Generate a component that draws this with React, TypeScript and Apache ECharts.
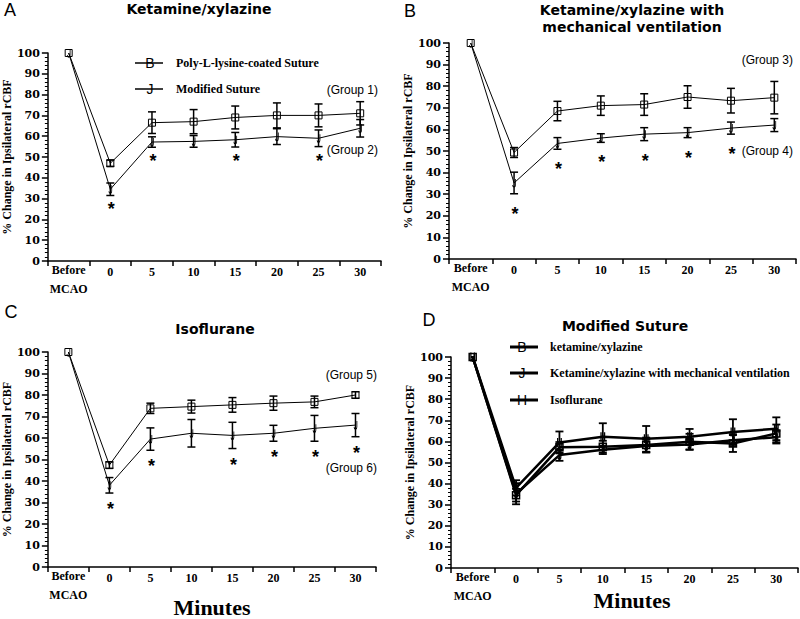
import React, { useEffect, useRef } from 'react';
import * as echarts from 'echarts';

// ---------- data ----------
const categories = ['Before MCAO', '0', '5', '10', '15', '20', '25', '30'];
const yTicks = [0, 10, 20, 30, 40, 50, 60, 70, 80, 90, 100];

// Panel A: Ketamine/xylazine
const g1Mean = [100, 47, 66.5, 67, 69, 70, 70, 71];
const g1Err = [0, 1.5, 5.2, 5.8, 5.5, 6, 5.5, 5.6];
const g2Mean = [100, 34.5, 57.2, 57.5, 58.3, 59.8, 59, 63.8];
const g2Err = [0, 3, 2.5, 2.8, 3.5, 3.8, 4, 4.2];
const g2Stars = [1, 2, 4, 6];

// Panel B: Ketamine/xylazine with mechanical ventilation
const g3Mean = [100, 49.3, 68.5, 71, 71.5, 75, 73.3, 74.7];
const g3Err = [0, 2.3, 4.5, 4.5, 5, 5.2, 5.7, 7.5];
const g4Mean = [100, 35.2, 53.5, 56, 57.8, 58.5, 60.6, 62];
const g4Err = [0, 5, 2.7, 2, 3, 2.3, 2.8, 3];
const g4Stars = [1, 2, 3, 4, 5, 6];

// Panel C: Isoflurane
const g5Mean = [100, 47.4, 73.8, 74.6, 75.4, 76.2, 76.8, 80];
const g5Err = [0, 1.5, 2.4, 3, 3.4, 3.3, 2.7, 1.5];
const g6Mean = [100, 38, 59.5, 62.2, 61.2, 62.2, 64.5, 66];
const g6Err = [0, 3.6, 5.2, 6.4, 6.1, 3.7, 6, 5.4];
const g6Stars = [1, 2, 4, 5, 6, 7];

// ---------- styles ----------
const SERIF = "'Liberation Serif','Times New Roman',serif";
const SANS = "'Liberation Sans',Arial,sans-serif";
const DJS = "'DejaVu Sans',sans-serif";
const DJSERIF = "'DejaVu Serif',serif";
const J_PATH = 'path://M6,0L6,8C6,11.5,0,11.5,0,8';
const H_PATH = 'path://M0,0L0,10M6,0L6,10M0,5L6,5';

const grids = [
  { left: 41, top: 53, width: 340, height: 208 },
  { left: 449, top: 43, width: 347, height: 216 },
  { left: 41, top: 352, width: 335, height: 215 },
  { left: 451, top: 357, width: 347, height: 211 },
];
const nameGaps = [27, 27, 28, 26];

function xAxis(i: number) {
  return {
    type: 'category',
    gridIndex: i,
    data: categories,
    boundaryGap: true,
    axisLine: { lineStyle: { color: '#000', width: 1.5 } },
    axisTick: { show: true, length: 5, lineStyle: { color: '#000', width: 1.5 } },
    axisLabel: {
      interval: 0,
      margin: -1,
      color: '#000',
      formatter: (v: string) => (v === 'Before MCAO' ? '{b|Before}\n{b|MCAO}' : '{n|' + v + '}'),
      rich: {
        b: { fontFamily: SERIF, fontWeight: 'bold', fontSize: 12, lineHeight: 19, color: '#000' },
        n: { fontFamily: SERIF, fontWeight: 'bold', fontSize: 12, lineHeight: 16, padding: [7, 0, 0, 0], color: '#000' },
      },
    },
    splitLine: { show: false },
  };
}

function yAxis(i: number) {
  return {
    type: 'value',
    gridIndex: i,
    min: yTicks[0],
    max: yTicks[yTicks.length - 1],
    interval: yTicks[1] - yTicks[0],
    axisLine: { show: true, lineStyle: { color: '#000', width: 1.5 } },
    axisTick: { show: true, length: 6, lineStyle: { color: '#000', width: 1.5 } },
    minorTick: { show: true, splitNumber: 5, length: 3, lineStyle: { color: '#000', width: 1 } },
    splitLine: { show: false },
    axisLabel: { color: '#000', fontFamily: DJSERIF, fontWeight: 'bold', fontSize: 11, margin: 8 },
    name: '% Change in Ipsilateral rCBF',
    nameLocation: 'middle',
    nameGap: nameGaps[i],
    nameTextStyle: { color: '#000', fontFamily: SERIF, fontWeight: 'bold', fontSize: 12 },
  };
}

function lineSeries(g: number, name: string, data: number[], symbol: string, size: any, lw: number, mlw: number) {
  return {
    type: 'line',
    name,
    xAxisIndex: g,
    yAxisIndex: g,
    data,
    symbol,
    symbolSize: size,
    symbolKeepAspect: true,
    showAllSymbol: true,
    lineStyle: { color: '#000', width: lw },
    itemStyle: { color: 'rgba(0,0,0,0)', borderColor: '#000', borderWidth: mlw },
    z: 3,
  };
}

function errSeries(g: number, mean: number[], err: number[], stars: number[], starOff: number, lw: number, cap: number) {
  return {
    type: 'custom',
    xAxisIndex: g,
    yAxisIndex: g,
    silent: true,
    z: 4,
    data: mean.map((m, i) => [i, m, err[i]]),
    renderItem: (_p: any, api: any) => {
      const idx = api.value(0);
      const m = api.value(1);
      const e = api.value(2);
      const top = api.coord([idx, m + e]);
      const bot = api.coord([idx, m - e]);
      const st = { stroke: '#000', lineWidth: lw };
      const children: any[] = [];
      if (e > 0) {
        children.push({ type: 'line', shape: { x1: top[0], y1: top[1], x2: bot[0], y2: bot[1] }, style: st });
        children.push({ type: 'line', shape: { x1: top[0] - cap, y1: top[1], x2: top[0] + cap, y2: top[1] }, style: st });
        children.push({ type: 'line', shape: { x1: bot[0] - cap, y1: bot[1], x2: bot[0] + cap, y2: bot[1] }, style: st });
      }
      if (stars.indexOf(idx) >= 0) {
        children.push({
          type: 'text',
          x: bot[0] + 1,
          y: bot[1] + starOff + 5,
          style: { text: '*', font: 'bold 18px ' + SANS, fill: '#000', align: 'center', verticalAlign: 'middle' },
        });
      }
      return { type: 'group', children };
    },
  };
}

function txt(text: string, x: number, y: number, font: string, align = 'center') {
  return { type: 'text', x, y, silent: true, style: { text, font, fill: '#000', align, verticalAlign: 'middle' } };
}
function seg(x1: number, y1: number, x2: number, y2: number, lw: number) {
  return { type: 'line', silent: true, shape: { x1, y1, x2, y2 }, style: { stroke: '#000', lineWidth: lw } };
}

const TITLE = 'bold 14px ' + DJS;
const LETTER = '18px ' + SANS;
const GROUP = '12px ' + SANS;
const LEG = 'bold 12px ' + SERIF;
const GLYPH = '14px ' + SANS;
const MIN = 'bold 22px ' + SERIF;

const graphics: any[] = [
  txt('A', 10, 10, LETTER),
  txt('B', 410, 11, LETTER),
  txt('C', 11, 312, LETTER),
  txt('D', 429, 320, LETTER),
  txt('Ketamine/xylazine', 199, 9, TITLE),
  txt('Ketamine/xylazine with', 632, 10, TITLE),
  txt('mechanical ventilation', 632, 27, TITLE),
  txt('Isoflurane', 215, 329, TITLE),
  txt('Modified Suture', 625, 326, TITLE),
  txt('(Group 1)', 378, 90, GROUP, 'right'),
  txt('(Group 2)', 378, 150, GROUP, 'right'),
  txt('(Group 3)', 793, 60, GROUP, 'right'),
  txt('(Group 4)', 793, 151, GROUP, 'right'),
  txt('(Group 5)', 377, 375, GROUP, 'right'),
  txt('(Group 6)', 377, 468, GROUP, 'right'),
  // legend A
  seg(135, 63, 163, 63, 1.5),
  txt('B', 150, 63, GLYPH),
  txt('Poly-L-lysine-coated Suture', 176, 63, LEG, 'left'),
  seg(135, 89, 163, 89, 1.5),
  txt('J', 150, 89, GLYPH),
  txt('Modified Suture', 176, 89, LEG, 'left'),
  // legend D
  seg(510, 347, 538, 347, 3),
  txt('B', 522, 347, GLYPH),
  txt('ketamine/xylazine', 550, 347, LEG, 'left'),
  seg(510, 373, 538, 373, 3),
  txt('J', 522, 373, GLYPH),
  txt('Ketamine/xylazine with mechanical ventilation', 550, 373, LEG, 'left'),
  seg(510, 400, 538, 400, 3),
  txt('H', 522, 400, GLYPH),
  txt('Isoflurane', 550, 400, LEG, 'left'),
  txt('Minutes', 212, 607, MIN),
  txt('Minutes', 632, 600, MIN),
];

export default function App() {
  const ref = useRef<HTMLDivElement>(null);
  useEffect(() => {
    if (!ref.current) return;
    const chart = echarts.init(ref.current, undefined, { renderer: 'svg' });
    chart.setOption({
      animation: false,
      backgroundColor: '#fff',
      grid: grids,
      xAxis: [0, 1, 2, 3].map(xAxis),
      yAxis: [0, 1, 2, 3].map(yAxis),
      series: [
        lineSeries(0, 'Poly-L-lysine-coated Suture', g1Mean, 'rect', 7, 1, 1),
        lineSeries(0, 'Modified Suture', g2Mean, J_PATH, [5, 8], 1, 1),
        errSeries(0, g1Mean, g1Err, [], 0, 1.5, 4),
        errSeries(0, g2Mean, g2Err, g2Stars, 9, 1.5, 4),
        lineSeries(1, 'Group 3', g3Mean, 'rect', 7, 1, 1),
        lineSeries(1, 'Group 4', g4Mean, J_PATH, [5, 8], 1, 1),
        errSeries(1, g3Mean, g3Err, [], 0, 1.5, 4),
        errSeries(1, g4Mean, g4Err, g4Stars, 15, 1.5, 4),
        lineSeries(2, 'Group 5', g5Mean, 'rect', 7, 1, 1),
        lineSeries(2, 'Group 6', g6Mean, J_PATH, [5, 8], 1, 1),
        errSeries(2, g5Mean, g5Err, [], 0, 1.5, 4),
        errSeries(2, g6Mean, g6Err, g6Stars, 11, 1.5, 4),
        lineSeries(3, 'ketamine/xylazine', g2Mean, 'rect', 7, 2.5, 1.5),
        lineSeries(3, 'Ketamine/xylazine with mechanical ventilation', g4Mean, J_PATH, [5, 8], 2.5, 1.5),
        lineSeries(3, 'Isoflurane', g6Mean, H_PATH, [6, 9], 2.5, 1.5),
        errSeries(3, g2Mean, g2Err, [], 0, 1.8, 4),
        errSeries(3, g4Mean, g4Err, [], 0, 1.8, 4),
        errSeries(3, g6Mean, g6Err, [], 0, 1.8, 4),
      ],
      graphic: graphics,
    });
    return () => chart.dispose();
  }, []);
  return <div ref={ref} style={{ position: 'absolute', left: 0, top: 0, width: 800, height: 619 }} />;
}
